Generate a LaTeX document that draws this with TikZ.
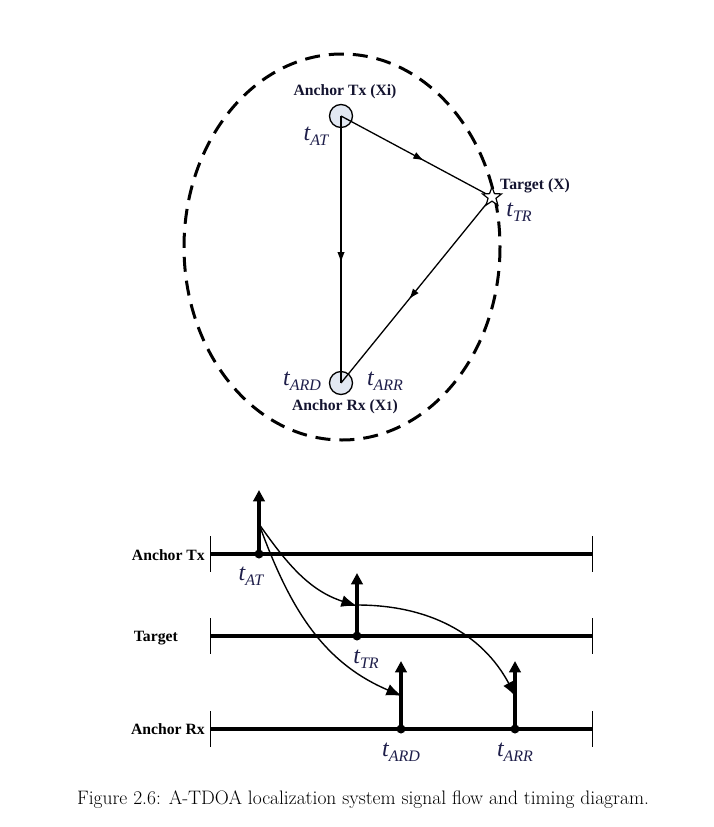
\documentclass[tikz,border=0pt]{standalone}
\usepackage{fontspec}
\newfontfamily\diagf{Liberation Serif}
\usepackage{xcolor}
\usepackage{tikz}
\usetikzlibrary{calc,arrows.meta,positioning,shapes.geometric,decorations.markings}
\definecolor{labc}{HTML}{1E1E4A}
\definecolor{boldc}{HTML}{141430}
\definecolor{circfill}{HTML}{E2E8F2}
\newcommand{\tsub}[1]{{\fontsize{24}{24}\selectfont\itshape t}\raisebox{-1ex}{\fontsize{16}{16}\selectfont\itshape #1}}
\tikzset{
  anchorc/.style={circle,draw,line width=1.3pt,fill=circfill,minimum size=23pt,inner sep=0pt},
  tgtstar/.style={star,star points=5,star point ratio=2.4,draw,line width=1.2pt,fill=white,minimum size=20pt,inner sep=0pt},
  flow/.style={line width=1.3pt,postaction={decorate},
    decoration={markings,mark=at position 0.55 with {\arrow{Latex[length=3.8mm,width=2.6mm]}}}},
  lbl/.style={font=\diagf\bfseries\fontsize{15.7}{15.7}\selectfont,text=boldc,inner sep=1pt},
  tlbl/.style={font=\diagf,text=labc,inner sep=1pt},
  axisl/.style={line width=4.5pt},
  tick/.style={line width=0.8pt},
  pulse/.style={line width=4pt,-{Triangle[length=4mm,width=4mm]}},
  sig/.style={line width=1.4pt,-{Latex[length=5.5mm,width=4.2mm]}},
  rowl/.style={font=\diagf\bfseries\fontsize{15.7}{15.7}\selectfont,anchor=east,inner sep=1pt}
}
\begin{document}
\begin{tikzpicture}[x=1pt,y=-1pt]
\useasboundingbox (0,0) rectangle (714,827);
% signal flow
\draw[line width=3pt,dash pattern=on 15pt off 9pt] (342,247) ellipse [x radius=158,y radius=193];
\node[anchorc] (tx) at (341,116) {};
\node[anchorc] (rx) at (341,383) {};
\draw[flow] (tx.center) -- (rx.center);
\draw[flow] (tx.center) -- (492,197) coordinate (tg);
\draw[flow] (tg) -- (rx.center);
\node[tgtstar] (tgs) at (tg) {};
\node[lbl] (txl) at (345,92) {Anchor Tx (Xi)};
\node[lbl] (rxl) at (345,407) {Anchor Rx (X{\fontsize{13}{13}\selectfont 1})};
\node[lbl,anchor=west] (tgl) at (499,186) {Target (X)};
\node[tlbl] (tat) at (316,136) {\tsub{AT}};
\node[tlbl] (ttr) at (519,212) {\tsub{TR}};
\node[tlbl] (tard) at (302,381) {\tsub{ARD}};
\node[tlbl] (tarr) at (385,381) {\tsub{ARR}};
% timing
\foreach \nm/\yy in {a/554,b/636,c/729}{
  \coordinate (\nm0) at (210,\yy);
  \coordinate (\nm1) at (592,\yy);
  \draw[axisl] (\nm0) -- (\nm1);
  \draw[tick] ($(\nm0)+(0,-18)$) -- ($(\nm0)+(0,18)$);
  \draw[tick] ($(\nm1)+(0,-18)$) -- ($(\nm1)+(0,18)$);
}
\node[rowl] (rtx) at (206,555) {Anchor Tx};
\node[rowl] (rtg) at (179,638) {Target};
\node[rowl] (rrx) at (206,729) {Anchor Rx};
\coordinate (pat) at (259,554);
\coordinate (ptr) at (357,636);
\coordinate (pard) at (401,729);
\coordinate (parr) at (515,729);
\draw[pulse] (pat) -- (259,490);
\draw[pulse] (ptr) -- (357,573);
\draw[pulse] (pard) -- (401,661);
\draw[pulse] (parr) -- (515,661);
\foreach \p in {pat,ptr,pard,parr} \fill (\p) circle (4.5pt);
\coordinate (sat) at (259,524);
\coordinate (str) at (357,605);
\draw[sig] (sat) to[out=-55,in=162] (357,606);
\draw[sig] (sat) to[out=-70,in=157] (402,696);
\draw[sig] (str) to[out=0,in=118] (516,697);
\node[tlbl] (bat) at (251,576) {\tsub{AT}};
\node[tlbl] (btr) at (366,659) {\tsub{TR}};
\node[tlbl] (bard) at (401,752) {\tsub{ARD}};
\node[tlbl] (barr) at (515,752) {\tsub{ARR}};
\node[font=\fontsize{19.5}{23}\selectfont] (cap) at (363,800) {Figure 2.6: A-TDOA localization system signal flow and timing diagram.};
\end{tikzpicture}
\end{document}
